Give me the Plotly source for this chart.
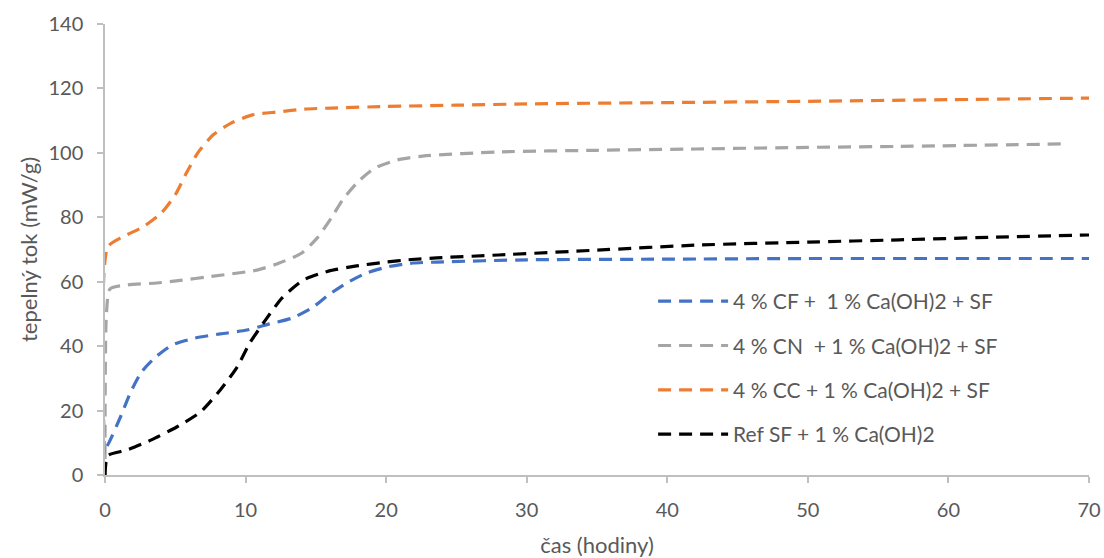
import plotly.graph_objects as go

# Data
cf_x = [0.15, 0.3, 1.1, 1.8, 2.6, 3.6, 4.8, 6.4, 8.2, 10.1, 11.7, 13.3, 14.7, 15.9, 17.2, 18.6, 20.1, 21.9, 23.6, 30, 40, 50, 60, 70]
cf_y = [9, 10.2, 18, 25.5, 32, 36.6, 40.4, 42.5, 43.8, 45, 46.9, 48.7, 51.8, 55.9, 59.6, 62.7, 64.6, 65.8, 66.1, 66.8, 67, 67.2, 67.2, 67.2]

cn_x = [0, 0.1, 0.36, 1.6, 3.7, 5.5, 7.3, 10.8, 12.4, 14, 15.1, 16.1, 16.9, 18, 19.2, 20.8, 22.6, 28, 35, 42, 50, 56.5, 68.5]
cn_y = [5, 50, 57.8, 59, 59.6, 60.5, 61.5, 63.6, 65.8, 68.9, 73.6, 79.8, 85.4, 91, 95.3, 97.8, 99, 100.3, 100.8, 101.2, 101.7, 102, 102.8]

cc_x = [0, 0.2, 1.3, 2.7, 4.0, 5.0, 5.8, 6.6, 7.7, 9.0, 10.5, 12.3, 14.2, 16.1, 20, 25, 30, 40, 50, 60, 70]
cc_y = [0, 70.8, 74, 77, 81.3, 87, 93.8, 100, 105.6, 109.3, 111.8, 112.7, 113.6, 113.9, 114.4, 114.8, 115.2, 115.6, 116, 116.5, 117]

ref_x = [0, 0.2, 1.6, 3.3, 5.1, 6.8, 8.2, 9.4, 10.3, 11.4, 12.6, 14.1, 15.9, 17.9, 19.8, 21.8, 23.6, 28, 35, 42.3, 50, 56.5, 63, 70]
ref_y = [0, 6, 7.8, 10.9, 14.9, 19.6, 26.4, 33.5, 41, 48, 55, 60.5, 63.3, 64.9, 66, 66.9, 67.4, 68.3, 69.8, 71.4, 72.3, 73, 73.8, 74.5]

names = ["4 % CF +  1 % Ca(OH)2 + SF", "4 % CN  + 1 % Ca(OH)2 + SF",
         "4 % CC + 1 % Ca(OH)2 + SF", "Ref SF + 1 % Ca(OH)2"]
colors = ["#4472C4", "#A5A5A5", "#ED7D31", "#000000"]
series = [(cf_x, cf_y), (cn_x, cn_y), (cc_x, cc_y), (ref_x, ref_y)]

fig = go.Figure()
for i, ((xs, ys), n, c) in enumerate(zip(series, names, colors)):
    fig.add_trace(go.Scatter(
        x=xs, y=ys, name=n, mode="lines", legendgroup=f"g{i}",
        line=dict(color=c, width=3.2, dash="13px,8px", shape="spline", smoothing=0.6),
    ))

font_fam = "Lato, 'Open Sans', sans-serif"
axis_common = dict(
    showgrid=False, zeroline=False, showline=True, linecolor="#BFBFBF", linewidth=1.5,
    ticks="outside", tickcolor="#BFBFBF", ticklen=6, tickwidth=1.5, automargin=False,
    ticklabelstandoff=10,
    tickfont=dict(family=font_fam, size=20, color="#595959"),
)
fig.update_layout(
    width=1104, height=558,
    margin=dict(l=105, r=15, t=24, b=83),
    paper_bgcolor="white", plot_bgcolor="white",
    showlegend=True,
    legend=dict(x=0.557, y=0.43, xanchor="left", yanchor="top",
                font=dict(family=font_fam, size=21, color="#595959"),
                tracegroupgap=14, itemwidth=70, bgcolor="rgba(0,0,0,0)"),
    xaxis=dict(range=[0, 70], dtick=10, title=dict(text="čas (hodiny)", standoff=18,
               font=dict(family=font_fam, size=22, color="#595959")), **axis_common),
    yaxis=dict(range=[0, 140], dtick=20, title=dict(text="tepelný tok (mW/g)", standoff=5,
               font=dict(family=font_fam, size=22, color="#595959")), **axis_common),
)
fig.write_html("out.html")
